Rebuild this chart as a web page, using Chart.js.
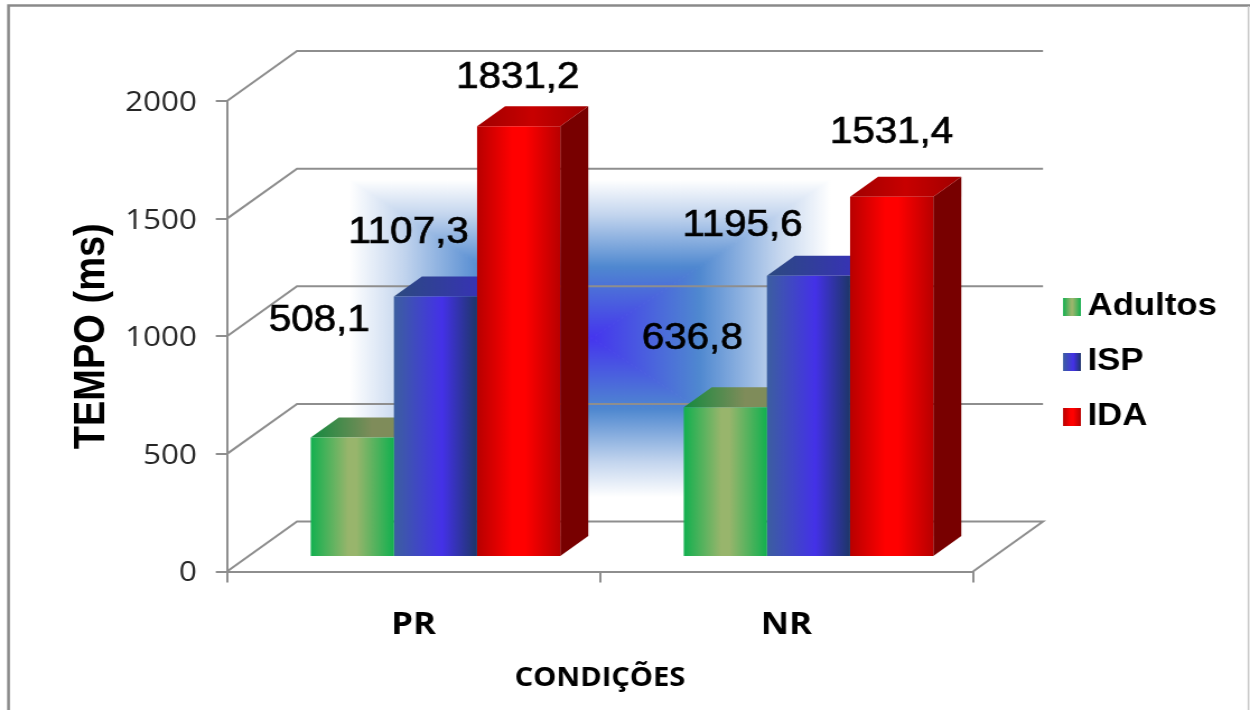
<!DOCTYPE html>
<html lang="pt">
<head>
<meta charset="utf-8">
<title>TEMPO (ms)</title>
<script src="https://cdn.jsdelivr.net/npm/chart.js@4/dist/chart.umd.min.js"></script>
<style>
    html, body { margin: 0; padding: 0; background: #fff; overflow: hidden; }
    #wrap { width: 1250px; height: 710px; overflow: hidden; }
    /* the whole figure is a little wider than its natural proportions */
    #tempos { display: block; transform-origin: 0 0; transform: scaleX(1.12007); }
</style>
</head>
<body>
<div id="wrap"><canvas id="tempos" width="1116" height="710"></canvas></div>
<script>
const condicoes = ['PR', 'NR'];
const adultos = [508.1, 636.8];
const isp = [1107.3, 1195.6];
const ida = [1831.2, 1531.4];
const yTicks = [0, 500, 1000, 1500, 2000];

const STRETCH = 1250 / 1116;
const sx = x => x / STRETCH;

// front, top and side colours of each series
const estilos = [
    {
        front: [[0, '#12b04f'], [0.45, '#98b56c'], [0.55, '#98b56c'], [1, '#12b04f']],
        top: [[0, '#148a3f'], [0.55, '#7f8c5a'], [1, '#7f8c5a']],
        side: '#0d7a38'
    },
    {
        front: [[0, '#3c5fa0'], [0.58, '#4431e8'], [1, '#1e3668']],
        top: [[0, '#2c4a80'], [1, '#3a2cc4']],
        side: '#1c2f66'
    },
    {
        front: [[0, '#b80000'], [0.42, '#ff0000'], [0.58, '#ff0000'], [1, '#b80000']],
        top: [[0, '#a00000'], [0.5, '#c80000'], [1, '#a00000']],
        side: '#780000'
    }
];

// where each value label sits relative to the top centre of its bar, series by series
const labelOffsets = [
    [[-33, -116], [-33, -68]],
    [[-27, -63], [-66, -50]],
    [[-1, -48], [0, -64]]
];

const CAT_PCT = 0.669;
const GRID = '#8e8e8e';
const BAR_SHIFT = { x: sx(22), y: -14.5 };
const BAR_DEPTH = { x: sx(28), y: -20 };
const WALL_DEPTH = { x: sx(70), y: -50 };

function gradiente(ctx, x0, x1, stops) {
    const g = ctx.createLinearGradient(x0, 0, x1, 0);
    stops.forEach(s => g.addColorStop(s[0], s[1]));
    return g;
}

function frontColor(c) {
    const est = estilos[c.datasetIndex];
    if (c.type !== 'data') return est.front[1][1];
    const xs = c.chart.scales.x;
    const groupW = xs.width / condicoes.length * CAT_PCT;
    const w = groupW / estilos.length;
    const left = xs.getPixelForValue(c.dataIndex) - groupW / 2 + c.datasetIndex * w;
    return gradiente(c.chart.ctx, left, left + w, est.front);
}

function legendSwatch(est) {
    // blank strip on the left pushes the square away from the legend's anchor
    const cv = document.createElement('canvas');
    cv.width = 22;
    cv.height = 18;
    const g = cv.getContext('2d');
    g.fillStyle = gradiente(g, 6, 22, est.front);
    g.fillRect(6, 0, 16, 18);
    return cv;
}

// rectangular four sided blue glow behind the bars
function drawGlow(ctx) {
    const l = sx(350), r = sx(830), t = 180, b = 497;
    const cx = sx(592), cy = 338;
    const stops = [[0, '#ffffff'], [0.22, '#c3d5ee'], [0.55, '#4f88d0'], [1, '#4535ee']];
    const tri = (x0, y0, x1, y1, ax, ay, bx, by) => {
        const g = ctx.createLinearGradient(x0, y0, x1, y1);
        stops.forEach(s => g.addColorStop(s[0], s[1]));
        ctx.fillStyle = g;
        ctx.strokeStyle = g;
        ctx.lineWidth = 1;
        ctx.beginPath();
        ctx.moveTo(ax, ay);
        ctx.lineTo(bx, by);
        ctx.lineTo(cx, cy);
        ctx.closePath();
        ctx.fill();
        ctx.stroke();
    };
    tri(0, t, 0, cy, l, t, r, t);
    tri(0, b, 0, cy, l, b, r, b);
    tri(l, 0, cx, 0, l, t, l, b);
    tri(r, 0, cx, 0, r, t, r, b);
}

function drawWalls(chart) {
    const ctx = chart.ctx;
    const { x: xs, y: ys } = chart.scales;
    const dx = WALL_DEPTH.x, dy = WALL_DEPTH.y;
    ctx.strokeStyle = GRID;
    ctx.lineWidth = 2;
    yTicks.forEach(v => {
        const y = ys.getPixelForValue(v);
        ctx.beginPath();
        ctx.moveTo(xs.left, y);
        ctx.lineTo(xs.left + dx, y + dy);
        ctx.lineTo(xs.right + dx, y + dy);
        if (v === 0) ctx.lineTo(xs.right, y);
        ctx.stroke();
    });
}

function drawBarFaces(chart) {
    const ctx = chart.ctx;
    const dx = BAR_DEPTH.x, dy = BAR_DEPTH.y;
    estilos.forEach((est, i) => {
        chart.getDatasetMeta(i).data.forEach(bar => {
            const w = bar.width;
            const left = bar.x - w / 2, right = bar.x + w / 2;
            ctx.fillStyle = est.side;
            ctx.beginPath();
            ctx.moveTo(right, bar.y);
            ctx.lineTo(right + dx, bar.y + dy);
            ctx.lineTo(right + dx, bar.base + dy);
            ctx.lineTo(right, bar.base);
            ctx.closePath();
            ctx.fill();
            ctx.fillStyle = gradiente(ctx, left, right + dx, est.top);
            ctx.beginPath();
            ctx.moveTo(left, bar.y);
            ctx.lineTo(left + dx, bar.y + dy);
            ctx.lineTo(right + dx, bar.y + dy);
            ctx.lineTo(right, bar.y);
            ctx.closePath();
            ctx.fill();
        });
    });
}

const perspectiva = {
    id: 'perspectiva',
    beforeDraw(chart) {
        const ctx = chart.ctx;
        ctx.save();
        ctx.fillStyle = '#fff';
        ctx.fillRect(0, 0, chart.width, chart.height);
        // outer border, open at the bottom
        ctx.strokeStyle = '#8a8a8a';
        ctx.lineWidth = 2.5;
        ctx.beginPath();
        ctx.moveTo(sx(8.5), chart.height);
        ctx.lineTo(sx(8.5), 5.5);
        ctx.lineTo(chart.width, 5.5);
        ctx.stroke();
        ctx.strokeStyle = '#c8c8c8';
        ctx.lineWidth = 1.5;
        ctx.beginPath();
        ctx.moveTo(sx(1248.5), 6);
        ctx.lineTo(sx(1248.5), chart.height);
        ctx.stroke();
        ctx.restore();
    },
    afterLayout(chart) {
        // park the legend in the free column right of the walls
        const lg = chart.legend;
        lg.left = sx(1040);
        lg.right = chart.width;
        lg.top = 267;
        lg.bottom = chart.height;
    },
    beforeDatasetsDraw(chart) {
        const ctx = chart.ctx;
        ctx.save();
        drawGlow(ctx);
        drawWalls(chart);
        // the bars stand part way into the floor
        ctx.translate(BAR_SHIFT.x, BAR_SHIFT.y);
        drawBarFaces(chart);
    },
    afterDatasetsDraw(chart) {
        const ctx = chart.ctx;
        ctx.font = '36px "Liberation Sans", Arial, sans-serif';
        ctx.fillStyle = '#000';
        ctx.strokeStyle = '#000';
        ctx.lineWidth = 0.7;
        ctx.textAlign = 'center';
        ctx.textBaseline = 'middle';
        chart.data.datasets.forEach((ds, i) => {
            chart.getDatasetMeta(i).data.forEach((bar, j) => {
                const off = labelOffsets[i][j];
                const txt = ds.data[j].toFixed(1).replace('.', ',');
                ctx.fillText(txt, bar.x + sx(off[0]), bar.y + off[1]);
                ctx.strokeText(txt, bar.x + sx(off[0]), bar.y + off[1]);
            });
        });
        ctx.restore();
    }
};

const series = [
    { label: 'Adultos', data: adultos },
    { label: 'ISP', data: isp },
    { label: 'IDA', data: ida }
];

new Chart(document.getElementById('tempos'), {
    type: 'bar',
    data: {
        labels: condicoes,
        datasets: series.map(s => ({
            label: s.label,
            data: s.data,
            backgroundColor: frontColor,
            borderWidth: 0,
            barPercentage: 1,
            categoryPercentage: CAT_PCT
        }))
    },
    plugins: [perspectiva],
    options: {
        responsive: false,
        animation: false,
        layout: {
            padding: { left: 56, top: 101, right: sx(1250 - 973), bottom: 12 }
        },
        plugins: {
            tooltip: { enabled: false },
            legend: {
                position: 'chartArea',
                align: 'start',
                labels: {
                    usePointStyle: true,
                    boxWidth: 3,
                    boxHeight: 18,
                    padding: 24,
                    color: '#000',
                    font: { family: '"Liberation Sans", Arial, sans-serif', size: 31, weight: 'bold' },
                    generateLabels: () => series.map((s, i) => ({
                        text: s.label,
                        pointStyle: legendSwatch(estilos[i]),
                        fontColor: '#000',
                        lineWidth: 0,
                        hidden: false,
                        datasetIndex: i
                    }))
                }
            }
        },
        scales: {
            x: {
                afterFit: s => { s.height = 126.5; },
                border: { color: GRID, width: 2 },
                grid: { drawOnChartArea: false, color: GRID, lineWidth: 2, tickLength: 11 },
                ticks: {
                    color: '#000',
                    padding: 24,
                    font: { family: '"Open Sans", sans-serif', size: 31, weight: 'bold' }
                },
                title: {
                    display: true,
                    text: 'CONDIÇÕES',
                    color: '#000',
                    font: { family: '"Open Sans", sans-serif', size: 26, weight: 'bold' }
                }
            },
            y: {
                min: 0,
                max: 2000,
                afterFit: s => { s.width = sx(227) - 56; },
                afterBuildTicks: s => { s.ticks = yTicks.map(v => ({ value: v })); },
                border: { color: GRID, width: 2 },
                grid: { drawOnChartArea: false, color: GRID, lineWidth: 2, tickLength: 10 },
                ticks: {
                    color: '#262626',
                    padding: 17,
                    labelOffset: 2,
                    callback: v => String(v),
                    font: { family: '"Open Sans", sans-serif', size: 28 }
                },
                title: {
                    display: true,
                    text: 'TEMPO (ms)',
                    color: '#000',
                    font: { family: '"Liberation Sans", Arial, sans-serif', size: 38, weight: 'bold' }
                }
            }
        }
    }
});
</script>
</body>
</html>
